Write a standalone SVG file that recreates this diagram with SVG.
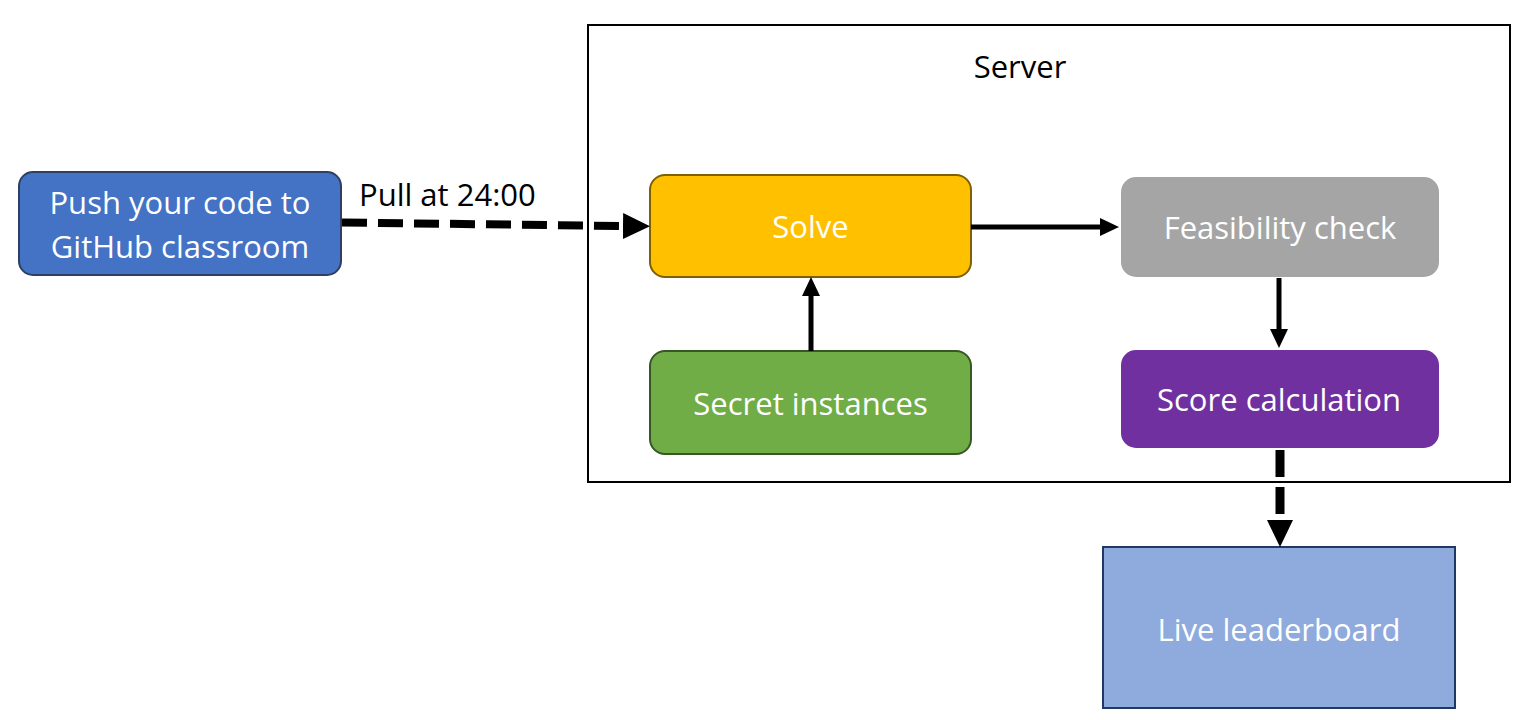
<svg xmlns="http://www.w3.org/2000/svg" width="1529" height="720" viewBox="0 0 1529 720">
  <style>
    .lbl { font-family: "Open Sans", "Liberation Sans", sans-serif; font-size: 31px; fill: #ffffff; text-anchor: middle; }
    .dark { fill: #000000; }
    .conn { fill: none; stroke: #000000; }
  </style>
  <defs>
    <marker id="headS" markerUnits="userSpaceOnUse" markerWidth="19" markerHeight="18" refX="0" refY="9" orient="auto">
      <path d="M0,0 L19,9 L0,18 z" fill="#000000"/>
    </marker>
    <marker id="headL" markerUnits="userSpaceOnUse" markerWidth="27" markerHeight="26" refX="0" refY="13" orient="auto">
      <path d="M0,0 L27,13 L0,26 z" fill="#000000"/>
    </marker>
  </defs>
  <rect width="1529" height="720" fill="#ffffff"/>

  <g id="server">
    <rect x="588" y="25" width="922" height="457" fill="#ffffff" stroke="#000000" stroke-width="2"/>
    <text class="lbl dark" x="1020" y="78">Server</text>
  </g>

  <g id="push">
    <rect x="19" y="172" width="322" height="103" rx="14" fill="#4472C4" stroke="#2F3F63" stroke-width="2"/>
    <text class="lbl" x="180" y="214">Push your code to</text>
    <text class="lbl" x="180" y="258">GitHub classroom</text>
  </g>

  <g id="solve">
    <rect x="650" y="175" width="321" height="102" rx="15" fill="#FFC000" stroke="#7F6000" stroke-width="2"/>
    <text class="lbl" x="810.5" y="238">Solve</text>
  </g>

  <g id="feasibility">
    <rect x="1121" y="177" width="318" height="100" rx="15" fill="#A5A5A5"/>
    <text class="lbl" x="1280" y="239">Feasibility check</text>
  </g>

  <g id="secret">
    <rect x="650" y="351" width="321" height="103" rx="15" fill="#70AD47" stroke="#385723" stroke-width="2"/>
    <text class="lbl" x="810.5" y="415">Secret instances</text>
  </g>

  <g id="score">
    <rect x="1121" y="350" width="318" height="98" rx="15" fill="#7030A0"/>
    <text class="lbl" x="1279" y="411">Score calculation</text>
  </g>

  <g id="leaderboard">
    <rect x="1103" y="547" width="352" height="161" fill="#8FAADC" stroke="#1F3864" stroke-width="2"/>
    <text class="lbl" x="1279" y="641">Live leaderboard</text>
  </g>

  <g id="connectors">
    <line class="conn" x1="342" y1="222.5" x2="623" y2="226" stroke-width="8" stroke-dasharray="25 11" marker-end="url(#headL)"/>
    <text class="lbl dark" x="359" y="206" style="text-anchor:start">Pull at 24:00</text>
    <line class="conn" x1="971" y1="227" x2="1100" y2="227" stroke-width="5" marker-end="url(#headS)"/>
    <line class="conn" x1="811" y1="351" x2="811" y2="296" stroke-width="5" marker-end="url(#headS)"/>
    <line class="conn" x1="1279" y1="278" x2="1279" y2="329" stroke-width="5" marker-end="url(#headS)"/>
    <line class="conn" x1="1280" y1="450" x2="1280" y2="520" stroke-width="9" stroke-dasharray="27 10" marker-end="url(#headL)"/>
  </g>
</svg>
